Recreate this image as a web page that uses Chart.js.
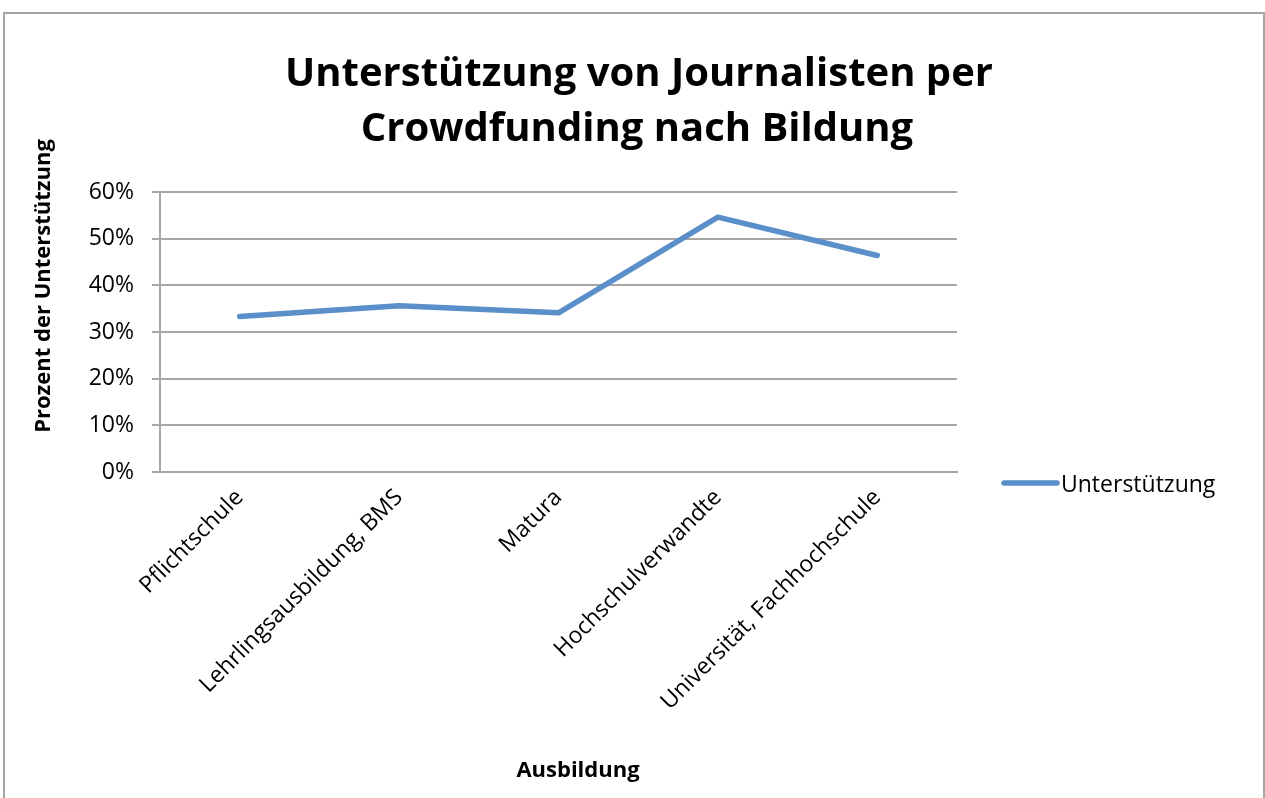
<!DOCTYPE html>
<html>
<head>
<meta charset="utf-8">
<title>Unterstützung nach Bildung</title>
<script src="https://cdn.jsdelivr.net/npm/chart.js@4/dist/chart.umd.min.js"></script>
<style>
    html, body { margin: 0; padding: 0; background: #fff; overflow: hidden; }
    #frame {
        position: absolute; left: 3px; top: 12px; width: 1258px; height: 820px;
        border: 2px solid #a5a5a5; background: #fff;
    }
    #wrap { position: absolute; left: 0; top: 0; width: 1265px; height: 798px; }
</style>
</head>
<body>
<div id="frame"></div>
<div id="wrap"><canvas id="chart" width="1265" height="798"></canvas></div>
<script>
const categories = [
    'Pflichtschule',
    'Lehrlingsausbildung, BMS',
    'Matura',
    'Hochschulverwandte',
    'Universität, Fachhochschule'
];
const support = [33.3, 35.6, 34.1, 54.6, 46.4];
const seriesName = 'Unterstützung';
const titleLines = ['Unterstützung von Journalisten per', 'Crowdfunding nach Bildung'];
const xTitle = 'Ausbildung';
const yTitle = 'Prozent der Unterstützung';

const FONT = '"Open Sans", Lato, sans-serif';
const GRID = '#a6a6a6';
const BLUE = '#5b8fca';

// titles and legend drawn at fixed spots, like the office chart layout
const decorations = {
    id: 'decorations',
    afterDraw(chart) {
        const ctx = chart.ctx;
        ctx.save();
        ctx.fillStyle = '#000';
        ctx.textBaseline = 'middle';
        ctx.textAlign = 'center';

        ctx.font = 'bold 40px ' + FONT;
        ctx.fillText(titleLines[0], 639, 75);
        ctx.fillText(titleLines[1], 637, 130);

        ctx.font = 'bold 22px ' + FONT;
        ctx.fillText(xTitle, 578, 771);

        ctx.translate(44, 286);
        ctx.rotate(-Math.PI / 2);
        ctx.fillText(yTitle, 0, 0);
        ctx.restore();

        // legend
        const ds = chart.data.datasets[0];
        ctx.save();
        ctx.strokeStyle = ds.borderColor;
        ctx.lineWidth = ds.borderWidth;
        ctx.lineCap = 'round';
        ctx.beginPath();
        ctx.moveTo(1004, 483);
        ctx.lineTo(1057, 483);
        ctx.stroke();
        ctx.fillStyle = '#000';
        ctx.font = '23px ' + FONT;
        ctx.textBaseline = 'middle';
        ctx.textAlign = 'left';
        ctx.fillText(ds.label, 1061, 485);
        ctx.restore();
    }
};

new Chart(document.getElementById('chart'), {
    type: 'line',
    data: {
        labels: categories,
        datasets: [{
            label: seriesName,
            data: support,
            borderColor: BLUE,
            borderWidth: 5.5,
            borderCapStyle: 'round',
            borderJoinStyle: 'round',
            pointRadius: 0,
            pointHoverRadius: 0,
            tension: 0,
            fill: false
        }]
    },
    options: {
        responsive: false,
        animation: false,
        layout: {
            padding: { left: 0, top: 192, right: 1265 - 957, bottom: 0 }
        },
        plugins: {
            legend: { display: false },
            title: { display: false },
            tooltip: { enabled: false }
        },
        scales: {
            x: {
                offset: true,
                grid: { display: false },
                border: { display: true, color: GRID, width: 2 },
                ticks: {
                    color: '#000',
                    font: { family: FONT, size: 23 },
                    maxRotation: 45,
                    minRotation: 45,
                    padding: 4,
                    autoSkip: false
                },
                afterFit(scale) { scale.height = 798 - 472; }
            },
            y: {
                min: 0,
                max: 60,
                grid: {
                    color: GRID,
                    lineWidth: 2,
                    drawTicks: true,
                    tickLength: 8,
                    tickColor: GRID
                },
                border: { display: true, color: GRID, width: 2 },
                ticks: {
                    stepSize: 10,
                    color: '#000',
                    font: { family: FONT, size: 23 },
                    padding: 18,
                    callback: v => v + '%'
                },
                afterFit(scale) { scale.width = 160; }
            }
        }
    },
    plugins: [decorations]
});
</script>
</body>
</html>
